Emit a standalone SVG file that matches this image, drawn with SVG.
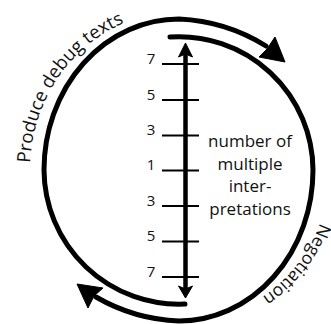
<svg xmlns="http://www.w3.org/2000/svg" width="331" height="324" viewBox="0 0 331 324">
<defs>
<style>
.arc{fill:none;stroke:#000;stroke-width:5;stroke-linecap:round}
.head{fill:#000;stroke:#000;stroke-width:1;stroke-linejoin:round}
.tick{stroke:#000;stroke-width:2}
.num{font-family:"Open Sans","Noto Sans",sans-serif;font-size:15px;fill:#111;text-anchor:middle}
.lbl{font-family:"Open Sans","Noto Sans",sans-serif;font-size:17px;fill:#111;text-anchor:middle}
.curve{font-family:"Open Sans","Noto Sans",sans-serif;font-size:18.5px;fill:#111}
.curve2{font-family:"Open Sans","Noto Sans",sans-serif;font-size:17.5px;fill:#111}
</style>
<path id="tp1" d="M 30,170 A 149 158 0 0 1 328,170"/>
<path id="tp2" d="M 329,172 A 150 150 0 0 1 29,172"/>
</defs>
<g id="connectors">
<g id="cycle-top">
<path class="arc" d="M 185,304 A 135 135 0 0 1 44,170 A 135 151 0 0 1 179,19 A 179 179 0 0 1 266,46"/>
<polygon class="head" points="285,62 259,57 267,49 275,37"/>
</g>
<g id="cycle-bottom">
<path class="arc" d="M 170,37 A 134 134 0 0 1 313,170 A 134 151 0 0 1 179,321 A 179 179 0 0 1 96,297"/>
<polygon class="head" points="77,284 103,288 94,296 88,308"/>
</g>
<g id="scale-axis">
<line x1="185.5" y1="52" x2="185.5" y2="290" stroke="#000" stroke-width="4.5"/>
<polygon class="head" points="185.5,43 192.5,57 185.5,54 178.5,57"/>
<polygon class="head" points="185.5,298 192.5,286 185.5,289 178.5,286"/>
</g>
</g>
<g id="scale">
<line class="tick" x1="162" y1="64" x2="199" y2="64"/>
<line class="tick" x1="162" y1="100" x2="199" y2="100"/>
<line class="tick" x1="162" y1="135.5" x2="199" y2="135.5"/>
<line class="tick" x1="162" y1="170.5" x2="199" y2="170.5"/>
<line class="tick" x1="162" y1="206" x2="199" y2="206"/>
<line class="tick" x1="162" y1="241.5" x2="199" y2="241.5"/>
<line class="tick" x1="162" y1="277" x2="199" y2="277"/>
<text class="num" x="151" y="63.5">7</text>
<text class="num" x="151" y="99.5">5</text>
<text class="num" x="151" y="135">3</text>
<text class="num" x="151" y="170">1</text>
<text class="num" x="151" y="205.5">3</text>
<text class="num" x="151" y="241">5</text>
<text class="num" x="151" y="276.5">7</text>
</g>
<g id="label-interpretations">
<text class="lbl" x="250" y="147">number of</text>
<text class="lbl" x="250" y="169.7">multiple</text>
<text class="lbl" x="250" y="192.4">inter-</text>
<text class="lbl" x="250" y="215.1">pretations</text>
</g>
<g id="label-produce">
<text class="curve"><textPath href="#tp1" startOffset="7">Produce debug texts</textPath></text>
</g>
<g id="label-negotiation">
<text class="curve2"><textPath href="#tp2" startOffset="52">Negotiation</textPath></text>
</g>
</svg>
